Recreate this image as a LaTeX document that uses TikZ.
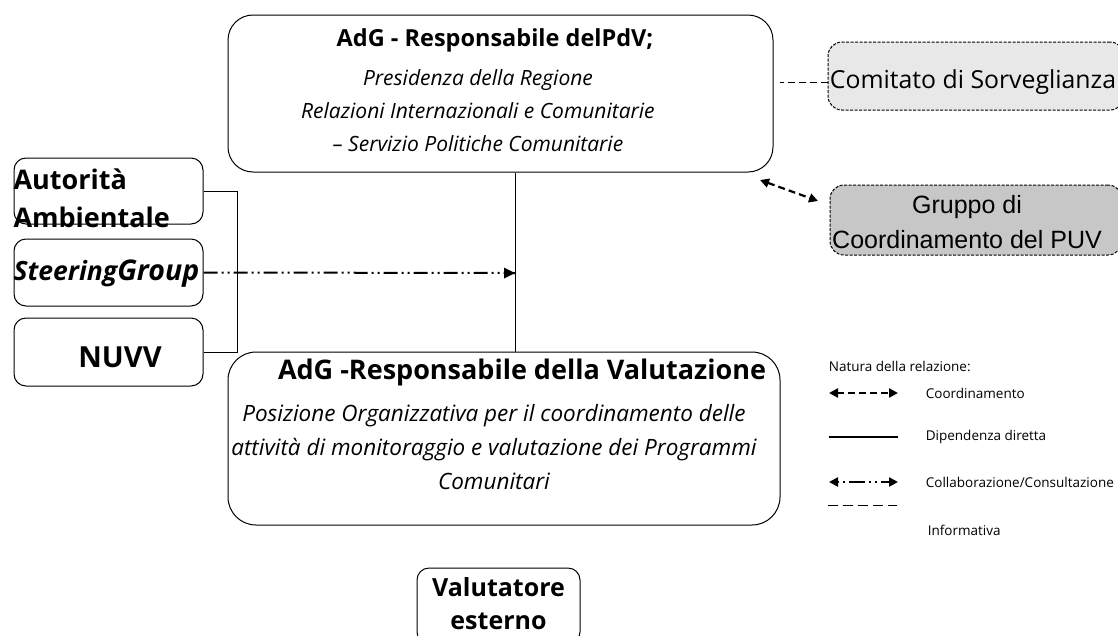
\documentclass[tikz,border=0pt]{standalone}
\usepackage{fontspec}
\setmainfont{Open Sans}
\newfontfamily\arialfont{Liberation Sans}
\usetikzlibrary{arrows.meta}

\begin{document}
\begin{tikzpicture}[x=1pt,y=-1pt,line width=1pt,
    box/.style={draw,rounded corners=#1,inner sep=0pt},
    box/.default=12pt,
    grey box/.style={box=14pt,dashed,dash pattern=on 3pt off 1.5pt},
    big/.style={font=\fontsize{27}{38}\selectfont\bfseries,align=center},
    desc/.style={font=\fontsize{21}{33}\selectfont\itshape,align=center},
    leg/.style={font=\fontsize{13.5}{16}\selectfont,anchor=west},
    coord/.style={line width=2.2pt,dash pattern=on 7pt off 4pt,{Triangle[length=9pt,width=9pt]}-{Triangle[length=9pt,width=9pt]}},
    collab/.style={line width=2pt,dash pattern=on 14pt off 4pt on 2pt off 4pt on 2pt off 4pt},
    info/.style={dash pattern=on 7pt off 4pt}]
\useasboundingbox (0,0) rectangle (1118,635);

\node[box=25pt,minimum width=545pt,minimum height=157pt] (pdv) at (500.5,93.5) {};
\node[font=\fontsize{23.5}{28}\selectfont\bfseries] (pdvT) at (495,40) {AdG - Responsabile delPdV;};
\node[desc] (pdvD) at (478,111) {Presidenza della Regione\\Relazioni Internazionali e Comunitarie\\-- Servizio Politiche Comunitarie};

\node[box=28pt,minimum width=552pt,minimum height=173pt] (val) at (504,438.5) {};
\node[font=\fontsize{27}{31}\selectfont\bfseries] (valT) at (522,372) {AdG -Responsabile della Valutazione};
\node[desc,font=\fontsize{22.5}{34}\selectfont\itshape] (valD) at (494,447) {Posizione Organizzativa per il coordinamento delle\\attività di monitoraggio e valutazione dei Programmi\\Comunitari};

\node[box,minimum width=189pt,minimum height=66pt] (aut) at (108.5,191) {};
\node[big,align=left,anchor=west,inner sep=0pt] (autT) at (13,198) {Autorità\\Ambientale};
\node[box,minimum width=189pt,minimum height=67pt] (steer) at (108.5,272.5) {};
\node[font=\fontsize{26.5}{30}\selectfont\bfseries\itshape,anchor=west,inner sep=0pt] (steerT) at (13,274) {Steering\fontsize{28.5}{30}\selectfont Group};
\node[box,minimum width=189pt,minimum height=68pt] (nuvv) at (108.5,352) {};
\node[font=\fontsize{29}{33}\selectfont\bfseries] (nuvvT) at (120,357) {NUVV};

\node[box,minimum width=163pt,minimum height=76pt] (est) at (498.5,606) {};
\node[big,font=\fontsize{25}{33}\selectfont\bfseries] (estT) at (498.5,604) {Valutatore\\esterno};

\node[grey box,fill=black!9,minimum width=296pt,minimum height=68pt] (cs) at (976,76) {};
\node[font=\fontsize{24.8}{28}\selectfont] (csT) at (973,82) {Comitato di Sorveglianza};
\node[grey box,fill=black!22,minimum width=292pt,minimum height=70pt] (gr) at (976,220) {};
\node[font=\fontsize{25}{35}\selectfont\arialfont,align=center] (grT) at (967,222) {Gruppo di\\Coordinamento del PUV};

\coordinate (spine) at (515,273);
\coordinate (brk) at (237,273);
\coordinate (csL) at (780,82);
\coordinate (co1) at (760,180);
\coordinate (co2) at (818,201);

\draw (spine |- pdv.south) -- (spine |- val.north);
\draw[collab] (steer.east) -- (spine);
\fill (spine) -- ++(-11,-5.5) -- ++(0,11) -- cycle;
\draw (aut.east) -- (aut.east -| brk) -- (nuvv.east -| brk) -- (nuvv.east);
\draw[info] (cs.west |- csL) -- (csL);
\draw[coord] (co1) -- (co2);

\node[leg] (nat) at (825,366) {Natura della relazione:};
\coordinate (l1a) at (829,393);
\coordinate (l1b) at (898,393);
\coordinate (l2a) at (829,437);
\coordinate (l2b) at (898,437);
\coordinate (l3a) at (829,482);
\coordinate (l3b) at (898,482);
\coordinate (l4a) at (828,505);
\coordinate (l4b) at (897,505);
\draw[coord] (l1a) -- (l1b);
\node[leg] (leg1) at (922,393) {Coordinamento};
\draw[line width=1.6pt] (l2a) -- (l2b);
\node[leg] (leg2) at (922,437) {Dipendenza diretta};
\draw[line width=2.4pt,dash pattern=on 2pt off 4pt on 2pt off 4pt on 16pt off 4pt,{Triangle[length=9pt,width=9pt]}-{Triangle[length=9pt,width=9pt]}] (l3a) -- (l3b);
\node[leg] (leg3) at (922,482) {Collaborazione/Consultazione};
\draw[info,dash pattern=on 10pt off 5pt] (l4a) -- (l4b);
\node[leg] (leg4) at (924,530) {Informativa};
\end{tikzpicture}
\end{document}
